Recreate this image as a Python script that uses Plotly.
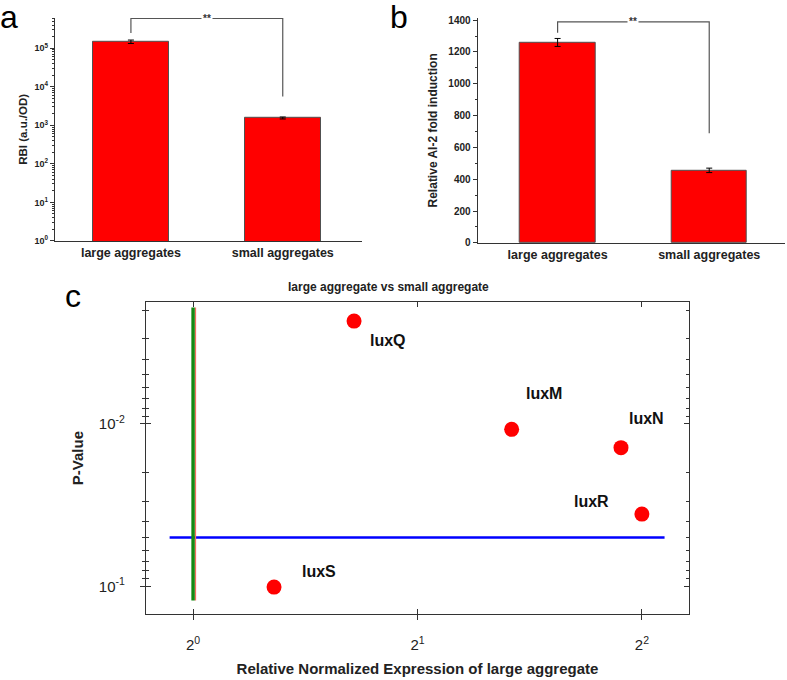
import numpy as np
import plotly.graph_objects as go

# ---------------- data ----------------
categories = ["large aggregates", "small aggregates"]

# panel a: RBI (a.u./OD), log scale
rbi_values = [148000, 1550]
rbi_errors = [15000, 90]
bracket_a_y = [250000, 590000, 590000, 5600]

# panel b: relative AI-2 fold induction
ai2_values = [1260, 456]
ai2_errors = [25, 14]
bracket_b_y = [1321, 1389, 1389, 689]

significance_label = "**"

# panel c: volcano-like plot
genes = ["luxQ", "luxM", "luxN", "luxR", "luxS"]
rel_expression = [1.644, 2.675, 3.75, 4.0, 1.284]
p_values = [0.00233, 0.0108, 0.0140, 0.0359, 0.101]
p_threshold = 0.05
threshold_x_span = [0.93, 4.29]
fold_baseline = 1
baseline_p_span = [0.122, 0.00192]

x_tickvals_c = [1, 2, 4]
x_ticktext_c = ["2<sup>0</sup>", "2<sup>1</sup>", "2<sup>2</sup>"]
y_tickvals_c = [0.1, 0.01]
y_ticktext_c = ["10<sup>-1</sup>", "10<sup>-2</sup>"]
a_tickvals = [1, 10, 100, 1000, 10000, 100000]
a_ticktext = ["10<sup>0</sup>", "10<sup>1</sup>", "10<sup>2</sup>",
              "10<sup>3</sup>", "10<sup>4</sup>", "10<sup>5</sup>"]

# label offsets (pixels) for gene names
label_dx = [34, 32, 26, -50, 45]
label_dy = [-19, 36, 29, 13, 16]

FONT = "Liberation Sans, Arial, sans-serif"
AX = "#333333"
BR = "#555555"

# panel c axis geometry
XC_DOM = [0.1855, 0.8755]
YC_DOM = [0.0907, 0.5549]
XC_RANGE = [np.log10(2 ** -0.21), np.log10(2 ** 2.21)]
YC_RANGE = [np.log10(0.148), np.log10(0.00178)]

def minor_log(lo_dec, hi_dec):
    v = []
    for d in range(lo_dec, hi_dec + 1):
        for m in range(2, 10):
            v.append(m * 10.0 ** d)
    return v

def to_paper(val, dom, rng):
    f = (np.log10(val) - rng[0]) / (rng[1] - rng[0])
    return dom[0] + f * (dom[1] - dom[0])

fig = go.Figure()

# ---- panel a ----
fig.add_trace(go.Bar(
    x=categories, y=rbi_values, width=0.5,
    marker=dict(color="#ff0000", line=dict(color="#505050", width=1)),
    error_y=dict(type="data", array=rbi_errors, color="black", thickness=1, width=3),
    xaxis="x", yaxis="y", showlegend=False))
fig.add_trace(go.Scatter(
    x=[categories[0], categories[0], categories[1], categories[1]], y=bracket_a_y,
    mode="lines", line=dict(color=BR, width=1.2), xaxis="x", yaxis="y",
    showlegend=False, hoverinfo="skip"))

# ---- panel b ----
fig.add_trace(go.Bar(
    x=categories, y=ai2_values, width=0.5,
    marker=dict(color="#ff0000", line=dict(color="#505050", width=1)),
    error_y=dict(type="data", array=ai2_errors, color="black", thickness=1, width=3),
    xaxis="x2", yaxis="y2", showlegend=False))
fig.add_trace(go.Scatter(
    x=[categories[0], categories[0], categories[1], categories[1]], y=bracket_b_y,
    mode="lines", line=dict(color=BR, width=1.2), xaxis="x2", yaxis="y2",
    showlegend=False, hoverinfo="skip"))

# ---- panel c ----
fig.add_trace(go.Scatter(
    x=threshold_x_span, y=[p_threshold, p_threshold], mode="lines",
    line=dict(color="#0000ff", width=2.5), xaxis="x3", yaxis="y3",
    showlegend=False, hoverinfo="skip"))
fig.add_trace(go.Scatter(
    x=[fold_baseline, fold_baseline], y=baseline_p_span, mode="lines",
    line=dict(color="#138a13", width=3.5), xaxis="x3", yaxis="y3",
    showlegend=False, hoverinfo="skip"))
fig.add_trace(go.Scatter(
    x=rel_expression, y=p_values, mode="markers", text=genes,
    marker=dict(color="#ff0000", size=15), xaxis="x3", yaxis="y3",
    showlegend=False))
# invisible trace to activate overlay axes (inside ticks)
fig.add_trace(go.Scatter(
    x=rel_expression, y=p_values, mode="markers", marker=dict(opacity=0),
    xaxis="x4", yaxis="y4", showlegend=False, hoverinfo="skip"))

# thin red edge just right of the green baseline
bx = to_paper(fold_baseline, XC_DOM, XC_RANGE) + 2.4 / 787
fig.add_shape(type="line", xref="paper", yref="paper", layer="above",
              x0=bx, x1=bx,
              y0=to_paper(baseline_p_span[0], YC_DOM, YC_RANGE),
              y1=to_paper(baseline_p_span[1], YC_DOM, YC_RANGE),
              line=dict(color="#f07060", width=1.2))

annotations = []
# significance stars
annotations.append(dict(x=0.5, y=np.log10(bracket_a_y[1]), xref="x", yref="y",
                        text=significance_label, showarrow=False, bgcolor="white",
                        font=dict(family=FONT, size=10, color="#333", weight="bold")))
annotations.append(dict(x=0.5, y=bracket_b_y[1], xref="x2", yref="y2",
                        text=significance_label, showarrow=False, bgcolor="white",
                        font=dict(family=FONT, size=10, color="#333", weight="bold")))
# gene labels
for g, xv, pv, dx, dy in zip(genes, rel_expression, p_values, label_dx, label_dy):
    annotations.append(dict(x=np.log10(xv), y=np.log10(pv), xref="x3", yref="y3",
                            text=g, showarrow=False, xshift=dx, yshift=dy,
                            font=dict(family=FONT, size=16, color="#111", weight="bold")))
# panel letters
for t, xp, yp in [("a", 9, 14), ("b", 399, 14), ("c", 73, 296)]:
    annotations.append(dict(x=xp / 787, y=1 - yp / 680, xref="paper", yref="paper",
                            text=t, showarrow=False, xanchor="center", yanchor="middle",
                            font=dict(family=FONT, size=32, color="black")))
# panel c title
annotations.append(dict(x=388 / 787, y=1 - 287 / 680, xref="paper", yref="paper",
                        text="large aggregate vs small aggregate", showarrow=False,
                        font=dict(family=FONT, size=12, color="#222", weight="bold")))

fig.update_layout(
    width=787, height=680, margin=dict(l=0, r=0, t=0, b=0),
    paper_bgcolor="white", plot_bgcolor="white",
    font=dict(family=FONT, color="#222"),
    annotations=annotations,
    bargap=0,
    xaxis=dict(domain=[0.0699, 0.4596], anchor="y", type="category",
               range=[-0.5, 1.52], showline=True, linecolor=AX, linewidth=1.2,
               ticks="", showgrid=False, zeroline=False,
               tickfont=dict(family=FONT, size=12.5, color="#222", weight="bold")),
    yaxis=dict(domain=[0.646, 0.978], anchor="x", type="log", range=[0, 5.79],
               tickvals=a_tickvals, ticktext=a_ticktext,
               showline=True, linecolor=AX, linewidth=1.2, ticks="outside",
               ticklen=4, tickcolor=AX, showgrid=False, zeroline=False,
               minor=dict(tickvals=minor_log(0, 5), ticks="outside", ticklen=2,
                          tickcolor=AX, showgrid=False),
               tickfont=dict(family=FONT, size=9, color="#222", weight="bold"),
               title=dict(text="RBI (a.u./OD)", standoff=4,
                          font=dict(family=FONT, size=11.5, color="#222", weight="bold"))),
    xaxis2=dict(domain=[0.607, 0.9975], anchor="y2", type="category",
                range=[-0.527, 1.5], showline=True, linecolor=AX, linewidth=1.2,
                ticks="", showgrid=False, zeroline=False,
                tickfont=dict(family=FONT, size=12.5, color="#222", weight="bold")),
    yaxis2=dict(domain=[0.643, 0.978], anchor="x2", range=[0, 1415],
                tickvals=[0, 200, 400, 600, 800, 1000, 1200, 1400],
                showline=True, linecolor=AX, linewidth=1.2, ticks="outside",
                ticklen=4, tickcolor=AX, showgrid=False, zeroline=False,
                minor=dict(dtick=100, tick0=0, ticks="outside", ticklen=2,
                           tickcolor=AX, showgrid=False),
                tickfont=dict(family=FONT, size=10, color="#222", weight="bold"),
                title=dict(text="Relative AI-2 fold induction", standoff=8,
                           font=dict(family=FONT, size=12, color="#222", weight="bold"))),
    xaxis3=dict(domain=XC_DOM, anchor="y3", type="log", range=XC_RANGE,
                tickvals=x_tickvals_c, ticktext=x_ticktext_c,
                showline=True, mirror=True, linecolor=AX, linewidth=1.3,
                ticks="outside", ticklen=5, tickcolor=AX, showgrid=False, zeroline=False,
                ticklabelstandoff=12,
                tickfont=dict(family=FONT, size=15, color="#222"),
                title=dict(text="Relative Normalized Expression of large aggregate", standoff=11,
                           font=dict(family=FONT, size=15, color="#222", weight="bold"))),
    yaxis3=dict(domain=YC_DOM, anchor="x3", type="log", range=YC_RANGE,
                tickvals=y_tickvals_c, ticktext=y_ticktext_c,
                showline=True, mirror=True, linecolor=AX, linewidth=1.3,
                ticks="outside", ticklen=5, tickcolor=AX, showgrid=False, zeroline=False,
                ticklabelstandoff=12,
                minor=dict(tickvals=minor_log(-3, -2), ticks="outside", ticklen=3,
                           tickcolor=AX, showgrid=False),
                tickfont=dict(family=FONT, size=15, color="#222"),
                title=dict(text="P-Value", standoff=11,
                           font=dict(family=FONT, size=15, color="#222", weight="bold"))),
    xaxis4=dict(overlaying="x3", anchor="y4", type="log", range=XC_RANGE,
                tickvals=x_tickvals_c, showticklabels=False,
                showline=True, mirror="ticks", linecolor=AX, linewidth=1.3,
                ticks="inside", ticklen=5, tickcolor=AX, showgrid=False, zeroline=False),
    yaxis4=dict(overlaying="y3", anchor="x4", type="log", range=YC_RANGE,
                tickvals=y_tickvals_c, showticklabels=False,
                showline=True, mirror="ticks", linecolor=AX, linewidth=1.3,
                ticks="inside", ticklen=5, tickcolor=AX, showgrid=False, zeroline=False,
                minor=dict(tickvals=minor_log(-3, -2), ticks="inside", ticklen=3,
                           tickcolor=AX, showgrid=False)),
)

fig.write_html("out.html", config={"displayModeBar": False},
               post_script="document.body.style.margin='0';document.body.style.overflow='hidden';")
